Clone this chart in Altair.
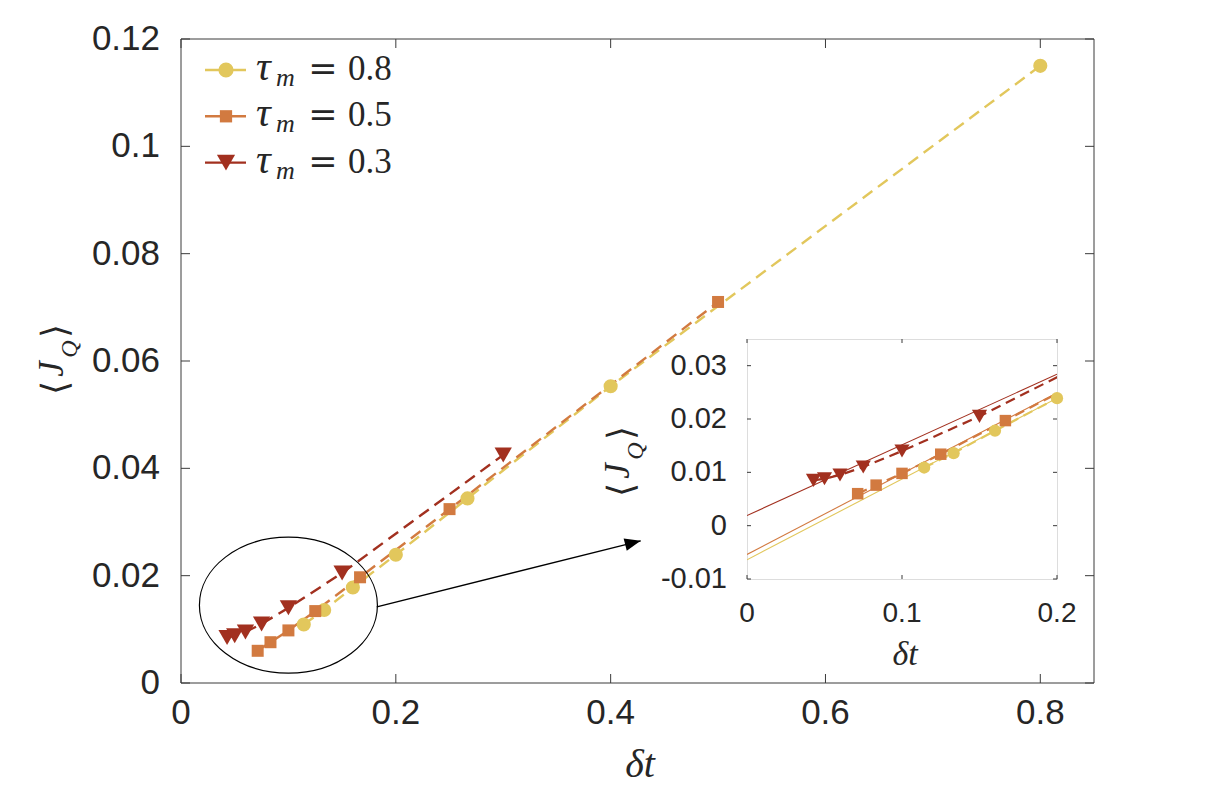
import altair as alt
import pandas as pd

# ---------------- data ----------------
tau_labels = ["0.8", "0.5", "0.3"]
series_colors = ["#E2C75C", "#D27A40", "#A2301F"]
series_shapes = ["circle", "square", "triangle-down"]

dt_08 = [0.1143, 0.1333, 0.16, 0.2, 0.2667, 0.4, 0.8]
J_08 = [0.0109, 0.0136, 0.0178, 0.0239, 0.0344, 0.0553, 0.1150]
dt_05 = [0.0714, 0.0833, 0.1, 0.125, 0.1667, 0.25, 0.5]
J_05 = [0.0060, 0.0076, 0.0098, 0.0134, 0.0197, 0.0324, 0.0710]
dt_03 = [0.0429, 0.05, 0.06, 0.075, 0.1, 0.15, 0.3]
J_03 = [0.0085, 0.0088, 0.0095, 0.0110, 0.0140, 0.0205, 0.0425]

fit_dt = [0.0, 0.2]
fit_J_08 = [-0.0064, 0.0239]
fit_J_05 = [-0.0054, 0.0249]
fit_J_03 = [0.0019, 0.0284]

main_x_domain = [0, 0.85]
main_y_domain = [0, 0.12]
main_x_ticks = [0, 0.2, 0.4, 0.6, 0.8]
main_x_labels = ["0", "0.2", "0.4", "0.6", "0.8"]
main_y_ticks = [0, 0.02, 0.04, 0.06, 0.08, 0.1, 0.12]
main_y_labels = ["0", "0.02", "0.04", "0.06", "0.08", "0.1", "0.12"]
inset_x_domain = [0, 0.2]
inset_y_domain = [-0.01, 0.035]
inset_x_ticks = [0, 0.1, 0.2]
inset_x_labels = ["0", "0.1", "0.2"]
inset_y_ticks = [-0.01, 0, 0.01, 0.02, 0.03]
inset_y_labels = ["-0.01", "0", "0.01", "0.02", "0.03"]

zoom_circle_center = [0.1, 0.0145]
arrow_from = [0.1823, 0.0142]
arrow_to = [0.428, 0.0265]

x_title = "δt"
y_title_parts = ["⟨", "J", "Q", "⟩"]
legend_symbol = "τ"
legend_sub = "m"
legend_eq = "="

# ---------------- layout (page pixels) ----------------
PAGE_W, PAGE_H = 1209, 794
MAIN_L, MAIN_R, MAIN_T, MAIN_B = 181, 1094, 39, 683
IN_L, IN_R, IN_T, IN_B = 747, 1057, 339, 579
VW, VH = IN_R - IN_L, IN_B - IN_T


def px(x):
    return x - IN_L


def py(y):
    return y - IN_T


AX = "#3a3a3a"
TXT = "#262626"
SANS = "Liberation Sans"
SERIF = "Liberation Serif"

# ---------------- tables ----------------
series = [(tau_labels[0], dt_08, J_08, fit_J_08),
          (tau_labels[1], dt_05, J_05, fit_J_05),
          (tau_labels[2], dt_03, J_03, fit_J_03)]
pts = pd.DataFrame([{"tau": t, "dt": d, "J": j}
                    for t, ds, js, _ in series for d, j in zip(ds, js)])
fits = pd.DataFrame([{"tau": t, "dt": d, "J": j}
                     for t, _, _, fj in series for d, j in zip(fit_dt, fj)])

cscale = alt.Scale(domain=tau_labels, range=series_colors)
shscale = alt.Scale(domain=tau_labels, range=series_shapes)
color = alt.Color("tau:N", scale=cscale, legend=None)
shape = alt.Shape("tau:N", scale=shscale, legend=None)

mx = alt.Scale(domain=main_x_domain, range=[px(MAIN_L), px(MAIN_R)], nice=False, zero=False)
my = alt.Scale(domain=main_y_domain, range=[py(MAIN_B), py(MAIN_T)], nice=False, zero=False)
ix = alt.Scale(domain=inset_x_domain, nice=False, zero=False)
iy = alt.Scale(domain=inset_y_domain, nice=False, zero=False)


def text(t, x, y, size, font=SERIF, style="italic", angle=0, align="center",
         baseline="middle"):
    return alt.Chart(pd.DataFrame({"t": [t]})).mark_text(
        font=font, fontSize=size, fontStyle=style, angle=angle, align=align,
        baseline=baseline, color=TXT).encode(
        x=alt.value(px(x)), y=alt.value(py(y)), text="t:N")


def ticks(vals, scale_x, scale_y, edge_val, orient, size, off):
    df = pd.DataFrame({"v": vals, "e": edge_val})
    if orient == "vertical":
        return alt.Chart(df).mark_tick(orient="vertical", size=size, thickness=1, color=AX,
                                       yOffset=off, opacity=1).encode(
            x=alt.X("v:Q", scale=scale_x, axis=None), y=alt.Y("e:Q", scale=scale_y, axis=None))
    return alt.Chart(df).mark_tick(orient="horizontal", size=size, thickness=1, color=AX,
                                   xOffset=off, opacity=1).encode(
        y=alt.Y("v:Q", scale=scale_y, axis=None), x=alt.X("e:Q", scale=scale_x, axis=None))


def xlabels(vals, labels, scale, y_base, size):
    df = pd.DataFrame({"v": vals, "t": labels})
    return alt.Chart(df).mark_text(font=SANS, fontSize=size, color=TXT, align="center",
                                   baseline="alphabetic").encode(
        x=alt.X("v:Q", scale=scale, axis=None), y=alt.value(py(y_base)), text="t:N")


def ylabels(vals, labels, scale, x_right, size):
    df = pd.DataFrame({"v": vals, "t": labels})
    return alt.Chart(df).mark_text(font=SANS, fontSize=size, color=TXT, align="right",
                                   baseline="middle").encode(
        y=alt.Y("v:Q", scale=scale, axis=None), x=alt.value(px(x_right)), text="t:N")


def ytitle(cx, cy):
    # <J_Q> written bottom-to-top, centred near (cx, cy)
    return [
        text(y_title_parts[0], cx, cy + 28, 36, style="normal", angle=270),
        text(y_title_parts[1], cx - 4, cy + 9, 35, angle=270),
        text(y_title_parts[2], cx + 14, cy - 11, 24, angle=270),
        text(y_title_parts[3], cx, cy - 29, 36, style="normal", angle=270),
    ]


# ---------------- main plot ----------------
main_lines = alt.Chart(pts).mark_line(strokeDash=[12, 7], strokeWidth=2.4).encode(
    x=alt.X("dt:Q", scale=mx, axis=None),
    y=alt.Y("J:Q", scale=my, axis=None),
    color=color)

main_pts = alt.Chart(pts).mark_point(filled=True, opacity=1).encode(
    x=alt.X("dt:Q", scale=mx, axis=None),
    y=alt.Y("J:Q", scale=my, axis=None),
    color=color, shape=shape,
    size=alt.Size("tau:N", scale=alt.Scale(type="ordinal", domain=tau_labels,
                                           range=[200, 144, 300]), legend=None))

ELLIPSE = ("M-1,0 C-1,-0.4218 -0.5523,-0.764 0,-0.764 C0.5523,-0.764 1,-0.4218 1,0 "
           "C1,0.4218 0.5523,0.764 0,0.764 C-0.5523,0.764 -1,0.4218 -1,0 Z")
ellipse = alt.Chart(pd.DataFrame({"x": [zoom_circle_center[0]], "y": [zoom_circle_center[1]]})).mark_point(
    shape=ELLIPSE, size=31684, filled=False, color="black", strokeWidth=1.2, opacity=1).encode(
    x=alt.X("x:Q", scale=mx, axis=None), y=alt.Y("y:Q", scale=my, axis=None))

arrow_df = pd.DataFrame({"x": [arrow_from[0]], "y": [arrow_from[1]],
                         "x2": [arrow_to[0]], "y2": [arrow_to[1]]})
arrow_line = alt.Chart(arrow_df).mark_rule(color="black", strokeWidth=1.3).encode(
    x=alt.X("x:Q", scale=mx, axis=None), y=alt.Y("y:Q", scale=my, axis=None),
    x2="x2:Q", y2="y2:Q")
arrow_head = alt.Chart(arrow_df).mark_point(
    shape="M0,0 L-1,-0.4 L-1,0.4 Z", size=1024, filled=True, color="black",
    opacity=1, angle=346).encode(
    x=alt.X("x2:Q", scale=mx, axis=None), y=alt.Y("y2:Q", scale=my, axis=None))

x0, x1 = main_x_domain
y0, y1 = main_y_domain
frame_df = pd.DataFrame({"x": [x0, x1, x0, x0], "x2": [x1, x1, x1, x0],
                         "y": [y1, y0, y0, y0], "y2": [y1, y1, y0, y1]})
frame = alt.Chart(frame_df).mark_rule(color=AX, strokeWidth=1).encode(
    x=alt.X("x:Q", scale=mx, axis=None), x2="x2:Q",
    y=alt.Y("y:Q", scale=my, axis=None), y2="y2:Q")

main_ticks = [
    ticks(main_x_ticks, mx, my, y0, "vertical", 9, -4.5),
    ticks(main_x_ticks, mx, my, y1, "vertical", 9, 4.5),
    ticks(main_y_ticks, mx, my, x0, "horizontal", 9, 4.5),
    ticks(main_y_ticks, mx, my, x1, "horizontal", 9, -4.5),
    xlabels(main_x_ticks, main_x_labels, mx, 724, 35),
    ylabels(main_y_ticks, main_y_labels, my, 160, 35),
]

# legend (drawn by hand, MATLAB style)
legend_layers = []
LEG_LINE_Y0, LEG_DY = 70, 46.3
for i, t in enumerate(tau_labels):
    ly = LEG_LINE_Y0 + i * LEG_DY
    d = pd.DataFrame({"tau": [t]})
    legend_layers.append(alt.Chart(d).mark_rule(strokeWidth=2.4, color=series_colors[i]).encode(
        x=alt.value(px(205)), x2=alt.value(px(246)), y=alt.value(py(ly))))
    legend_layers.append(alt.Chart(d).mark_point(
        filled=True, opacity=1, shape=series_shapes[i], color=series_colors[i],
        size=[230, 150, 330][i]).encode(x=alt.value(px(226)), y=alt.value(py(ly))))
    legend_layers.append(text(legend_symbol, 256, ly + 10, 41, align="left", baseline="alphabetic"))
    legend_layers.append(text(legend_sub, 276, ly + 16, 26, align="left", baseline="alphabetic"))
    legend_layers.append(text(legend_eq, 323, ly + 10, 35, font="DejaVu Serif", style="normal",
                              baseline="alphabetic"))
    legend_layers.append(text(t, 348, ly + 10, 35, style="normal", align="left", baseline="alphabetic"))

# axis titles
titles = [text(x_title, 640, 765, 40), text(x_title, 905, 655, 34)]
titles += ytitle(56, 360)
titles += ytitle(622, 462)

main_layer = alt.layer(main_lines, main_pts, ellipse, arrow_line, arrow_head, frame,
                       *main_ticks, *legend_layers, *titles)

# ---------------- inset ----------------
in_fits = alt.Chart(fits).mark_line(strokeWidth=1.1, clip=True).encode(
    x=alt.X("dt:Q", scale=ix, axis=None),
    y=alt.Y("J:Q", scale=iy, axis=None),
    color=color)
in_lines = alt.Chart(pts).mark_line(strokeDash=[10, 6], strokeWidth=2.2, clip=True).encode(
    x=alt.X("dt:Q", scale=ix, axis=None), y=alt.Y("J:Q", scale=iy, axis=None), color=color)
in_pts = alt.Chart(pts).transform_filter(
    (alt.datum.dt <= inset_x_domain[1] + 1e-9) & (alt.datum.dt >= inset_x_domain[0])
).mark_point(filled=True, opacity=1).encode(
    x=alt.X("dt:Q", scale=ix, axis=None), y=alt.Y("J:Q", scale=iy, axis=None),
    color=color, shape=shape,
    size=alt.Size("tau:N", scale=alt.Scale(type="ordinal", domain=tau_labels,
                                           range=[150, 132, 230]), legend=None))
in_ticks = [
    ticks(inset_x_ticks, ix, iy, inset_y_domain[0], "vertical", 4, -2),
    ticks(inset_x_ticks, ix, iy, inset_y_domain[1], "vertical", 4, 2),
    ticks(inset_y_ticks, ix, iy, inset_x_domain[0], "horizontal", 4, 2),
    ticks(inset_y_ticks, ix, iy, inset_x_domain[1], "horizontal", 4, -2),
    xlabels(inset_x_ticks, inset_x_labels, ix, 622, 28),
    ylabels(inset_y_ticks, inset_y_labels, iy, 727, 29),
]
inset_layer = alt.layer(in_fits, in_lines, in_pts, *in_ticks)

chart = alt.layer(main_layer, inset_layer).resolve_scale(
    x="independent", y="independent", size="independent"
).properties(
    width=VW, height=VH,
    autosize=alt.AutoSizeParams(type="none"),
    padding={"left": IN_L, "top": IN_T, "right": PAGE_W - IN_R, "bottom": PAGE_H - IN_B},
).configure_view(stroke=AX, strokeWidth=1, fill="white").configure(background="white")

chart.save("out.html", embed_options={"renderer": "svg", "actions": False})
